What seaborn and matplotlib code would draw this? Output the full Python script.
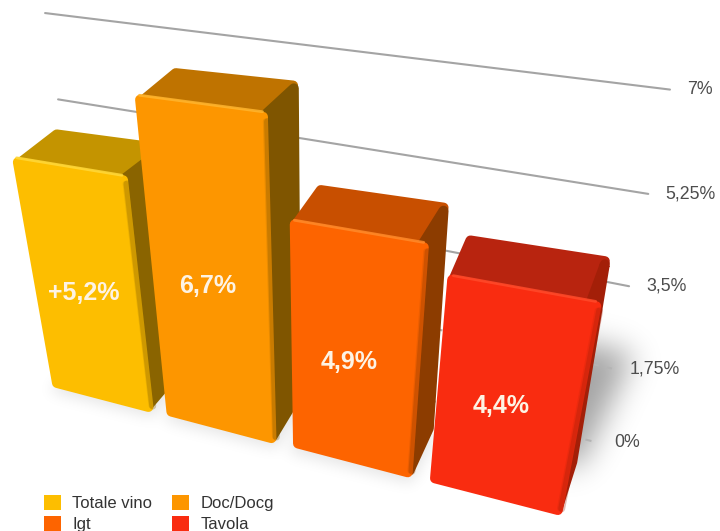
import numpy as np
import pandas as pd
import matplotlib
matplotlib.use("Agg")
import matplotlib.pyplot as plt
from matplotlib.patches import Polygon, Patch
from matplotlib.path import Path
from matplotlib.transforms import Affine2D, Transform
import seaborn as sns

categories = ["Totale vino", "Doc/Docg", "Igt", "Tavola"]
values = [5.2, 6.7, 4.9, 4.4]
value_labels = ["+5,2%", "6,7%", "4,9%", "4,4%"]
tick_values = [0, 1.75, 3.5, 5.25, 7]
tick_labels = ["0%", "1,75%", "3,5%", "5,25%", "7%"]
front_colors = ["#FDBE00", "#FD9600", "#FD6400", "#F92C10"]
top_colors = ["#C49400", "#BF7300", "#C84F00", "#B8240F"]
side_colors = ["#8A6400", "#7F5500", "#8C3C00", "#A31F08"]
edge_colors = ["#FFD83A", "#FFB52E", "#FF8A2A", "#FF4A2A"]

BAR_WIDTH = 0.87
BAR_DEPTH = 1.0
WALL_DEPTH = 1.6
WALL_TILT = 0.08
WALL_RIGHT = 3.58
WALL_LEFT = -0.71
ROUNDING = 5.0
LABEL_HEIGHTS = [2.55, 3.28, 2.3, 2.07]

# Vanishing points of the row, height and depth directions, in pixels,
# and the pixel position of the front-left foot of the first bar.
VP_ROW, SCALE_ROW = (-2480.0, -255.0), -0.04296
VP_UP, SCALE_UP = (314.0, 1800.0), -0.0269
VP_DEPTH, SCALE_DEPTH = (724.0, -317.0), 0.0535
ORIGIN = (55.0, 387.0)


def project(x, y, z):
    """Project category position, percentage and depth onto figure pixels."""
    x = np.asarray(x, float) + BAR_WIDTH / 2
    y, z = np.asarray(y, float), np.asarray(z, float)
    a, b, c = SCALE_ROW * x, SCALE_UP * y, SCALE_DEPTH * z
    w = 1 + a + b + c
    px = (ORIGIN[0] + a * VP_ROW[0] + b * VP_UP[0] + c * VP_DEPTH[0]) / w
    py = (ORIGIN[1] + a * VP_ROW[1] + b * VP_UP[1] + c * VP_DEPTH[1]) / w
    return px, py


def wall_depth(x):
    """Depth of the back wall, which recedes slightly towards the left."""
    return WALL_DEPTH + WALL_TILT * (3.57 - np.asarray(x, float))


class Perspective(Transform):
    """Maps (category, percent) on a depth plane to figure pixels."""
    input_dims = output_dims = 2
    is_separable = False

    def __init__(self, depth_of):
        super().__init__()
        self.depth_of = depth_of

    def transform_non_affine(self, values):
        pts = np.asarray(values, float)
        return np.column_stack(
            project(pts[:, 0], pts[:, 1], self.depth_of(pts[:, 0])))


def inset(px, py):
    """Affine pulling a pixel-space shape in, leaving room for a round stroke."""
    cx, cy = (px.min() + px.max()) / 2, (py.min() + py.max()) / 2
    sx = max(px.max() - px.min() - 2 * ROUNDING, 1) / max(px.max() - px.min(), 1)
    sy = max(py.max() - py.min() - 2 * ROUNDING, 1) / max(py.max() - py.min(), 1)
    return Affine2D().translate(-cx, -cy).scale(sx, sy).translate(cx, cy)


sns.set_theme(style="white")
plt.rcParams["font.family"] = ["Liberation Sans", "DejaVu Sans"]

fig = plt.figure(figsize=(7.2, 5.31), dpi=100, facecolor="white")
ax = fig.add_axes([0, 0, 1, 1])

frame = pd.DataFrame({"categoria": categories, "valore": values})
sns.barplot(data=frame, x="categoria", y="valore", hue="categoria",
            palette=front_colors, saturation=1, width=BAR_WIDTH,
            legend=False, ax=ax)

front = Perspective(lambda x: 0.0 * x) + ax.transData
wall = Perspective(wall_depth) + ax.transData

# Soft ground shadows, rasterised in pixel space and blurred in frequency space
grid_x, grid_y = np.meshgrid(np.arange(720) + 0.5, np.arange(531) + 0.5)
grid_pts = np.column_stack([grid_x.ravel(), grid_y.ravel()])
freq_y = np.fft.fftfreq(531)[:, None]
freq_x = np.fft.rfftfreq(720)[None, :]


def blurred_quad(xs, zs, sigma, strength):
    px, py = project(xs, np.zeros(4), zs)
    mask = Path(np.column_stack([px, py])).contains_points(grid_pts)
    mask = mask.reshape(grid_x.shape).astype(float)
    kernel = np.exp(-2 * (np.pi * sigma) ** 2 * (freq_x ** 2 + freq_y ** 2))
    return strength * np.fft.irfft2(np.fft.rfft2(mask) * kernel, s=mask.shape)


shade = np.zeros_like(grid_x)
for i in range(3):
    shade += blurred_quad([i - 0.45, i + 0.45, i + 0.5, i - 0.45],
                          [-0.12, -0.12, 1, 1], 7, 0.10)
shade += blurred_quad([2.9, 3.5, 3.75, 3.1], [1, 1, 4, 4], 15, 0.36)
rgba = np.zeros(shade.shape + (4,))
rgba[..., 3] = np.clip(shade, 0, 1)
ax.imshow(rgba, extent=(0, 720, 531, 0), aspect="auto", zorder=1,
          interpolation="bilinear")

# Reference lines on the back wall
for v, label in zip(tick_values, tick_labels):
    faint = v < 3
    sns.lineplot(x=[WALL_LEFT, WALL_RIGHT], y=[v, v], transform=wall,
                 color="#b4b4b4" if faint else "#a4a4a4", lw=1.5,
                 ls=(0, (3, 4)) if faint else "-", errorbar=None,
                 zorder=2, legend=False, ax=ax)
    ex, ey = project(WALL_RIGHT, v, wall_depth(WALL_RIGHT))
    ax.annotate(label, (float(ex), float(ey)), xytext=(12.5, 0),
                textcoords="offset points", ha="left", va="center",
                fontsize=12.8, color="#4d4d4d", zorder=2)

# Bars: seaborn's rectangles form the front faces; top and side extend them.
for i, (bar, v) in enumerate(zip(ax.patches, values)):
    base = 3 + i
    l, r = i - BAR_WIDTH / 2, i + BAR_WIDTH / 2
    fx, fy = project([l, r, r, l], [0, 0, v, v], 0.0)
    bar.set_transform(Perspective(lambda x: 0.0 * x) + inset(fx, fy) + ax.transData)
    bar.set_edgecolor(front_colors[i])
    bar.set_linewidth(2 * ROUNDING * 0.72)
    bar.set_joinstyle("round")
    bar.set_zorder(base + 0.2)

    # The top and side faces tuck under the front face so no seam shows
    faces = [
        ([l, r, r, l], [v - 0.15, v - 0.15, v, v], [0, 0, BAR_DEPTH, BAR_DEPTH],
         top_colors[i]),
        ([r - 0.05, r, r, r - 0.05], [v, v, 0, 0], [0, BAR_DEPTH, BAR_DEPTH, 0],
         side_colors[i]),
    ]
    for k, (xs, ys, zs, col) in enumerate(faces):
        px, py = project(xs, ys, zs)
        ax.add_patch(Polygon(np.column_stack([px, py]), closed=True, fc=col,
                             ec=col, lw=2 * ROUNDING * 0.72, joinstyle="round",
                             transform=inset(px, py) + ax.transData,
                             zorder=base + 0.05 * k))

    # Bevels along the top and right front edges
    ax.plot([l + 0.03, r - 0.03], [v, v], transform=front, color=edge_colors[i],
            lw=2, alpha=0.85, solid_capstyle="round", zorder=base + 0.3)
    ax.plot([r, r], [0.15, v - 0.15], transform=front,
            color=side_colors[i], lw=5, alpha=0.3, zorder=base + 0.3)
    ax.plot([r - 0.012, r - 0.012], [0.15, v - 0.15], transform=front,
            color=side_colors[i], lw=4, alpha=0.15, zorder=base + 0.3)

    tx, ty = project(i - 0.03, LABEL_HEIGHTS[i], 0)
    ax.text(float(tx), float(ty), value_labels[i], ha="center", va="center",
            fontsize=18, fontweight="bold", color="#FDF3E4", zorder=20)

handles = [Patch(fc=c, ec="none", label=n)
           for c, n in zip(front_colors, categories)]
order = [0, 2, 1, 3]
ax.legend([handles[j] for j in order], [categories[j] for j in order],
          ncols=2, loc="lower left", bbox_to_anchor=(44 / 720, -1 / 531),
          frameon=False, fontsize=12, handlelength=1, handleheight=1,
          handletextpad=0.7, columnspacing=1.2, labelspacing=0.3,
          borderpad=0, borderaxespad=0, labelcolor="#333333")

ax.set_xlim(0, 720)
ax.set_ylim(531, 0)
ax.axis("off")

fig.savefig("out.png", dpi=100)
